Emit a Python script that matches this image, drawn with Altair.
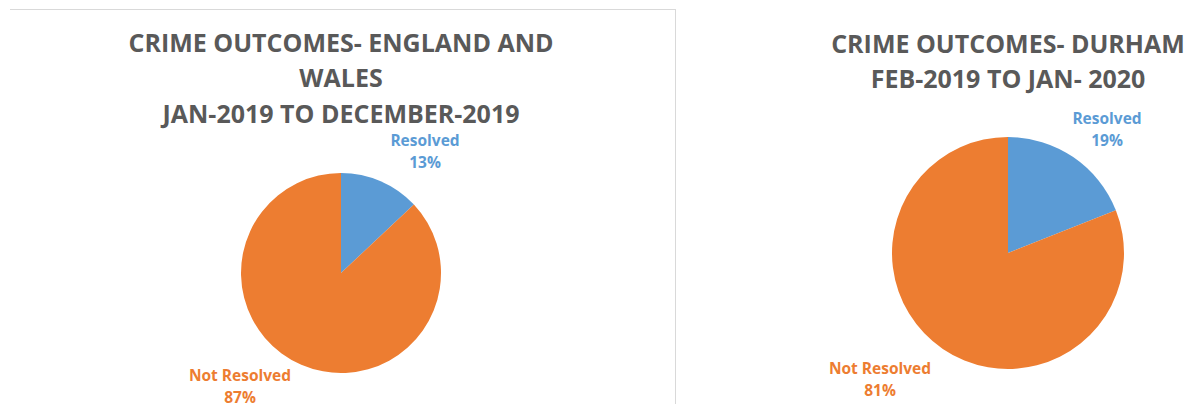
import altair as alt
import pandas as pd

panels = ["England and Wales", "Durham"]
categories = ["Resolved", "Not Resolved"]
ew_values = [13, 87]
durham_values = [19, 81]
title_ew = ["CRIME OUTCOMES- ENGLAND AND", "WALES", "JAN-2019 TO DECEMBER-2019"]
title_du = ["CRIME OUTCOMES- DURHAM", "FEB-2019 TO JAN- 2020"]

rows = []
for p, vals in zip(panels, [ew_values, durham_values]):
    for i, (c, v) in enumerate(zip(categories, vals)):
        rows.append({"panel": p, "category": c, "value": v, "order": i, "pct": f"{v}%"})
df = pd.DataFrame(rows)

titles = pd.DataFrame(
    [{"panel": panels[0], "line": i, "text": t} for i, t in enumerate(title_ew)]
    + [{"panel": panels[1], "line": i, "text": t} for i, t in enumerate(title_du)]
)

color = alt.Color("category:N", scale=alt.Scale(domain=categories, range=["#5B9BD5", "#ED7D31"]), legend=None)

base = alt.Chart(df)

# chart coordinates = page coordinates - 8
geom = {
    panels[0]: dict(cx=333, cy=265, r=100,
                    labels={"Resolved": (417, 133), "Not Resolved": (232, 368)},
                    title_x=333, title_y=[36, 71, 107]),
    panels[1]: dict(cx=1000, cy=245, r=116,
                    labels={"Resolved": (1099, 111), "Not Resolved": (872, 361)},
                    title_x=1000, title_y=[37, 72]),
}
line_gap = 22

layers = []
layers.append(alt.Chart(df).mark_rule(color="#D9D9D9", strokeWidth=1).encode(
    x=alt.value(2), x2=alt.value(667), y=alt.value(1.5)))
layers.append(alt.Chart(df).mark_rule(color="#D9D9D9", strokeWidth=1).encode(
    x=alt.value(667.5), y=alt.value(1), y2=alt.value(400)))

for p in panels:
    g = geom[p]
    layers.append(
        base.transform_filter(alt.datum.panel == p).mark_arc(outerRadius=g["r"], stroke=None).encode(
            theta=alt.Theta("value:Q", stack=True),
            order=alt.Order("order:Q"),
            color=color,
            x=alt.value(g["cx"]), y=alt.value(g["cy"]),
        )
    )
    for cat, (lx, ly) in g["labels"].items():
        for k, field in enumerate(["category", "pct"]):
            layers.append(
                base.transform_filter((alt.datum.panel == p) & (alt.datum.category == cat)).mark_text(
                    font="Open Sans", fontWeight="bold", fontSize=15.5,
                    align="center", baseline="middle"
                ).encode(text=f"{field}:N", color=color, x=alt.value(lx), y=alt.value(ly + k * line_gap))
            )
    for i, ty in enumerate(g["title_y"]):
        layers.append(
            alt.Chart(titles).transform_filter((alt.datum.panel == p) & (alt.datum.line == i)).mark_text(
                font="Open Sans", fontWeight="bold", fontSize=25, color="#595959",
                align="center", baseline="middle"
            ).encode(text="text:N", x=alt.value(g["title_x"]), y=alt.value(ty))
        )

chart = alt.layer(*layers).properties(
    width=1182, height=396, padding=0, autosize=alt.AutoSizeParams(type="none")
).configure_view(stroke=None)

chart.save("out.html", embed_options={"renderer": "svg", "actions": False})
